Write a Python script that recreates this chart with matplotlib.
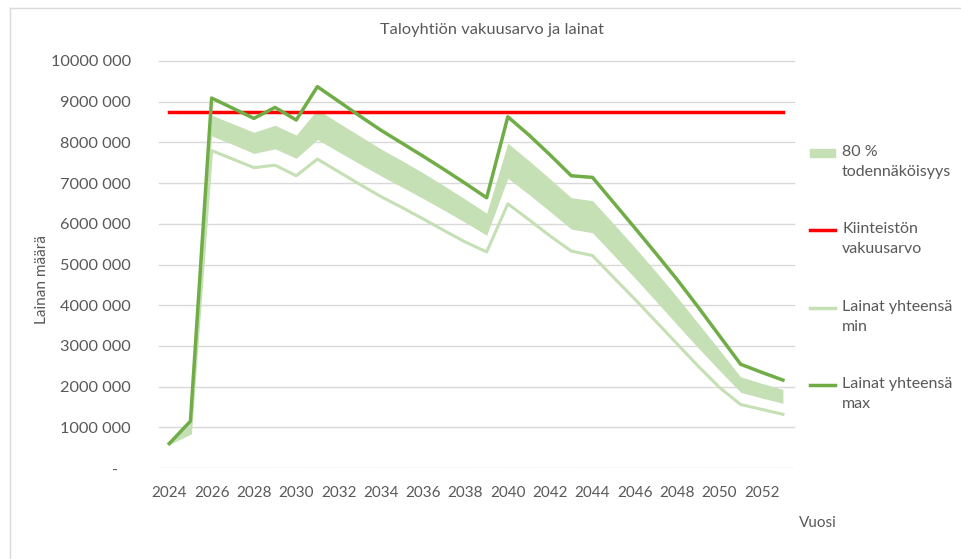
import numpy as np
import matplotlib
matplotlib.use('Agg')
import matplotlib.pyplot as plt
from matplotlib.lines import Line2D
from matplotlib.patches import Rectangle

plt.rcParams['font.family'] = ['Lato', 'DejaVu Sans']

# --- DATA (values in millions of euros) ---
years = np.arange(2024, 2054)

lainat_max = [0.60, 1.15, 9.09, 8.84, 8.59, 8.86, 8.55, 9.37, 9.01, 8.65,
              8.30, 7.98, 7.66, 7.33, 6.99, 6.64, 8.63, 8.18, 7.69, 7.18,
              7.14, 6.52, 5.90, 5.27, 4.63, 3.95, 3.25, 2.55, 2.35, 2.16]

band_upper = [0.60, 1.10, 8.67, 8.46, 8.25, 8.42, 8.18, 8.81, 8.48, 8.16,
              7.84, 7.55, 7.25, 6.93, 6.60, 6.26, 7.98, 7.55, 7.10, 6.64,
              6.57, 6.00, 5.42, 4.82, 4.20, 3.55, 2.90, 2.24, 2.08, 1.93]

band_lower = [0.60, 0.88, 8.16, 7.95, 7.73, 7.84, 7.61, 8.07, 7.77, 7.47,
              7.18, 6.90, 6.62, 6.33, 6.03, 5.72, 7.12, 6.72, 6.30, 5.87,
              5.78, 5.23, 4.67, 4.10, 3.52, 2.95, 2.40, 1.86, 1.72, 1.59]

lainat_min = [0.60, 0.85, 7.80, 7.59, 7.38, 7.44, 7.18, 7.59, 7.28, 6.97,
              6.67, 6.40, 6.12, 5.83, 5.55, 5.31, 6.49, 6.10, 5.70, 5.33,
              5.22, 4.68, 4.15, 3.60, 3.05, 2.50, 1.98, 1.56, 1.44, 1.32]

vakuusarvo = 8.75

yticks = np.arange(0, 11, 1)
ytick_labels = ['-   '] + ['%d 000' % (v * 1000) for v in yticks[1:]]
xticks = np.arange(2024, 2053, 2)

legend_labels = ['80 %\ntodennäköisyys', 'Kiinteistön\nvakuusarvo',
                 'Lainat yhteensä\nmin', 'Lainat yhteensä\nmax']

scale = 1e6
GRAY = '#595959'
BAND = '#C5E0B4'
GREEN = '#70AD47'
RED = '#FF0000'

# --- PLOT ---
W, H = 961, 559
fig = plt.figure(figsize=(W / 100, H / 100), dpi=100)
ax = fig.add_axes([158.7 / W, 91 / H, 634.8 / W, 407 / H])

ax.fill_between(years, np.array(band_lower) * scale, np.array(band_upper) * scale,
                color=BAND, linewidth=0)
ax.plot([years[0], years[-1]], [vakuusarvo * scale] * 2, color=RED, linewidth=2.5)
ax.plot(years, np.array(lainat_min) * scale, color=BAND, linewidth=2.2)
ax.plot(years, np.array(lainat_max) * scale, color=GREEN, linewidth=2.5)

ax.set_xlim(2023.5, 2053.5)
ax.set_ylim(0, 10 * scale)
ax.set_yticks(yticks * scale)
ax.set_yticklabels(ytick_labels)
ax.set_xticks(xticks)
ax.set_xticklabels([str(x) for x in xticks])

for v in yticks[1:]:
    ax.axhline(v * scale, color='#D9D9D9', linewidth=1, zorder=0, clip_on=False)
ax.axhline(0, color='#BFBFBF', linewidth=1, linestyle=(0, (1, 1)), zorder=0)

for s in ax.spines.values():
    s.set_visible(False)
ax.tick_params(axis='both', length=0, colors=GRAY)
ax.tick_params(axis='y', pad=20, labelsize=11.8)
ax.tick_params(axis='x', pad=13, labelsize=11)

fig.text(492 / W, 1 - 30 / H, 'Taloyhtiön vakuusarvo ja lainat',
         ha='center', va='center', fontsize=11.8, color=GRAY)
fig.text(42 / W, 1 - 280 / H, 'Lainan määrä', rotation=90,
         ha='center', va='center', fontsize=11, color=GRAY)
fig.text(818 / W, 1 - 523 / H, 'Vuosi', ha='center', va='center',
         fontsize=11, color=GRAY)

# legend (handle aligned with first text line, like Excel)
leg_y = [153, 230, 308, 385]
for i, (lab, y) in enumerate(zip(legend_labels, leg_y)):
    fy = 1 - y / H
    if i == 0:
        fig.add_artist(Rectangle((810 / W, fy - 4 / H), 25 / W, 8 / H,
                                 color=BAND, transform=fig.transFigure))
    else:
        col = [RED, BAND, GREEN][i - 1]
        fig.add_artist(Line2D([810 / W, 835 / W], [fy, fy], color=col,
                              linewidth=2.5, transform=fig.transFigure))
    fig.text(842 / W, fy + 8 / H, lab, ha='left', va='top', fontsize=11.5,
             color=GRAY, linespacing=1.55)

# chart area border
fig.add_artist(Line2D([10 / W, 1], [1 - 8 / H] * 2, color='#D9D9D9',
                      linewidth=1, transform=fig.transFigure))
fig.add_artist(Line2D([10 / W] * 2, [0, 1 - 8 / H], color='#D9D9D9',
                      linewidth=1, transform=fig.transFigure))

fig.savefig('out.png', dpi=100)
